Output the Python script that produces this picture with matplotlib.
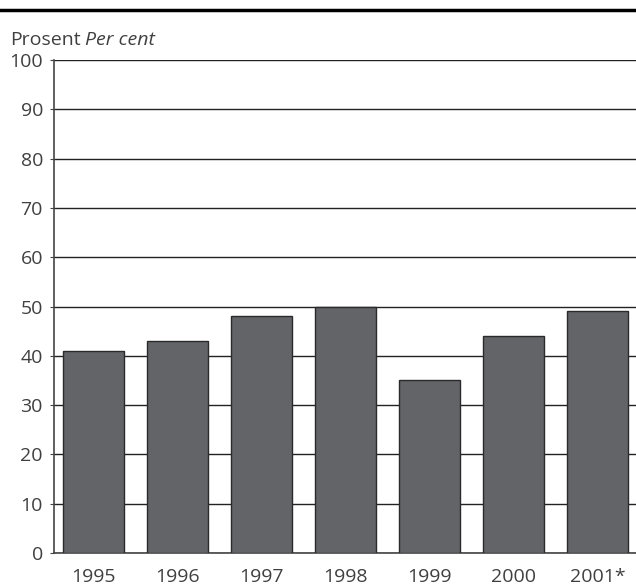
import matplotlib.pyplot as plt
from matplotlib.lines import Line2D

years = ['1995', '1996', '1997', '1998', '1999', '2000', '2001*']
values = [41, 43, 48, 50, 35, 44, 49]
yticks = list(range(0, 101, 10))

text_color = '#404040'
bar_color = '#636468'

plt.rcParams['font.family'] = ['Open Sans', 'DejaVu Sans']

fig = plt.figure(figsize=(6.36, 5.85), dpi=100)
ax = fig.add_axes([54 / 636, 32 / 585, 1 - 54 / 636, (553 - 60) / 585])

x = list(range(len(years)))
ax.bar(x, values, width=0.73, color=bar_color, edgecolor='#2a2a2a',
       linewidth=1.0, zorder=3)

ax.set_xlim(-0.47, 6.458)
ax.set_ylim(0, 100)
ax.set_yticks(yticks)
ax.set_xticks(x)
ax.set_xticklabels(years)
ax.yaxis.grid(True, color='#222222', linewidth=1.0, zorder=0)
ax.set_axisbelow(True)

for side in ['top', 'right']:
    ax.spines[side].set_visible(False)
for side in ['left', 'bottom']:
    ax.spines[side].set_color('#444444')
    ax.spines[side].set_linewidth(1.2)

ax.tick_params(axis='y', length=3, color='#444444', labelsize=14,
               labelcolor=text_color, pad=5)
ax.tick_params(axis='x', length=0, labelsize=14, labelcolor=text_color, pad=11)

# top rule
fig.add_artist(Line2D([0, 1], [1 - 10 / 585, 1 - 10 / 585],
                      color='black', linewidth=2.5))

fig.text(10 / 636, 1 - 45 / 585, 'Prosent', fontsize=14, color=text_color)
fig.text(85 / 636, 1 - 45 / 585, 'Per cent', fontsize=14,
         color=text_color, style='italic')

fig.savefig('out.png', dpi=100)
